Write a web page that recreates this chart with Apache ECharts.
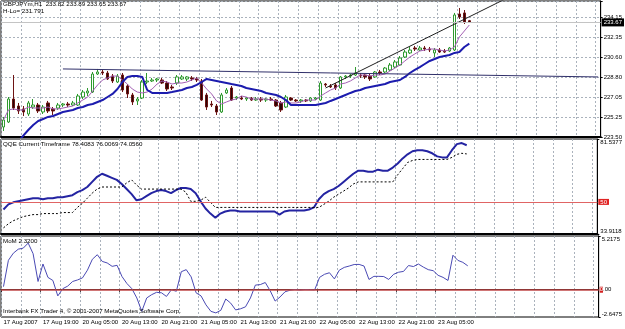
<!DOCTYPE html>
<html>
<head>
<meta charset="utf-8">
<title>GBPJPYm,H1</title>
<script src="https://cdn.jsdelivr.net/npm/echarts@6/dist/echarts.min.js"></script>
<style>
  html, body { margin: 0; padding: 0; background: #fff; }
  #main { width: 625px; height: 329px; }
</style>
</head>
<body>
<div id="main"></div>
<script>
// one label every 8 hourly bars
var timeLabels = ['17 Aug 2007', '17 Aug 19:00', '20 Aug 05:00', '20 Aug 13:00', '20 Aug 21:00', '21 Aug 05:00',
  '21 Aug 13:00', '21 Aug 21:00', '22 Aug 05:00', '22 Aug 13:00', '22 Aug 21:00', '23 Aug 05:00'];
var priceLabels = ['223.50', '225.25', '227.05', '228.80', '230.60', '232.35', '234.15'];
var qqeLabels = ['33.9118', '81.5377'];
var momLabels = ['-2.6475', '5.2175'];

// GBPJPY H1 bars
var open = [224.39, 224.83, 226.87, 226.25, 225.99, 225.54, 226.16, 226.34, 225.72, 226.52,
  225.99, 226.07, 226.34, 226.43, 226.34, 226.34, 227.05, 227.41, 227.49, 229.09,
  229.27, 229.18, 228.91, 228.38, 229.00, 228.03, 227.23, 226.70, 226.96, 228.38,
  228.47, 228.56, 228.56, 228.29, 227.94, 228.29, 228.65, 228.65, 228.74, 228.65,
  228.47, 227.23, 226.43, 226.25, 225.72, 227.41, 227.85, 226.96, 226.96, 226.87,
  226.96, 226.78, 226.87, 226.78, 226.87, 226.78, 226.52, 226.16, 226.96, 226.78,
  226.70, 226.78, 226.70, 226.87, 226.78, 228.20, 228.03, 228.12, 227.85, 228.83,
  228.91, 229.00, 229.00, 229.00, 228.91, 228.83, 229.27, 229.27, 229.45, 229.71,
  229.89, 230.60, 230.96, 231.40, 231.22, 231.40, 231.31, 230.96, 231.22, 231.13,
  231.13, 231.22, 234.42, 234.51, 233.82];
var close = [225.01, 226.87, 226.07, 225.81, 225.72, 226.52, 226.34, 225.81, 226.16, 225.81,
  225.81, 226.34, 226.43, 226.34, 226.52, 227.14, 227.49, 227.58, 229.09, 229.27,
  229.18, 228.65, 228.47, 228.91, 227.67, 227.32, 226.61, 226.87, 228.38, 228.47,
  228.56, 228.65, 228.29, 227.76, 227.85, 228.83, 228.83, 228.83, 228.65, 228.56,
  226.78, 226.16, 226.34, 225.72, 227.23, 227.67, 226.78, 227.05, 226.87, 226.96,
  226.78, 226.87, 226.78, 226.87, 226.78, 226.25, 225.90, 227.05, 226.78, 226.70,
  226.78, 226.70, 226.96, 226.96, 228.29, 228.12, 227.94, 227.85, 228.83, 228.91,
  229.00, 229.18, 228.91, 228.83, 228.65, 229.27, 229.18, 229.62, 229.89, 230.16,
  230.51, 231.04, 231.22, 231.31, 231.40, 231.31, 231.22, 231.22, 231.04, 231.04,
  231.40, 234.33, 234.15, 233.71, 233.67];
var low = [224.03, 224.74, 225.90, 225.54, 225.36, 225.36, 225.99, 225.63, 225.54, 225.63,
  225.45, 225.90, 226.16, 226.16, 226.25, 226.25, 226.87, 227.14, 227.41, 229.00,
  229.00, 228.56, 228.29, 228.29, 227.49, 226.96, 226.34, 226.34, 226.87, 228.20,
  228.38, 228.38, 228.20, 227.58, 227.67, 228.12, 228.56, 228.47, 228.47, 228.38,
  226.70, 225.90, 226.16, 225.45, 225.63, 227.32, 226.70, 226.78, 226.78, 226.70,
  226.70, 226.70, 226.61, 226.61, 226.70, 226.16, 225.72, 226.07, 226.70, 226.61,
  226.52, 226.61, 226.61, 226.78, 226.70, 227.94, 227.85, 227.67, 227.76, 228.65,
  228.74, 228.91, 228.74, 228.65, 228.47, 228.74, 229.00, 229.18, 229.36, 229.62,
  229.80, 230.51, 230.87, 231.13, 231.13, 231.13, 231.04, 230.60, 230.96, 230.96,
  231.04, 231.13, 233.97, 233.53, 233.65];
var high = [225.28, 227.05, 229.00, 226.52, 226.25, 226.70, 226.87, 226.52, 226.34, 226.70,
  226.16, 226.52, 226.52, 226.61, 226.70, 227.32, 227.67, 227.85, 229.27, 229.54,
  229.45, 229.36, 229.09, 229.09, 229.18, 228.20, 227.41, 227.05, 228.56, 229.18,
  228.74, 228.74, 228.74, 228.47, 228.12, 229.00, 229.00, 228.91, 228.91, 228.83,
  228.65, 227.41, 226.70, 226.43, 227.41, 227.85, 228.03, 227.14, 227.14, 227.05,
  227.05, 227.05, 227.05, 226.96, 227.05, 226.87, 226.70, 227.23, 227.05, 226.87,
  226.87, 226.87, 227.05, 227.05, 228.47, 228.29, 228.20, 228.29, 228.91, 229.00,
  229.09, 229.71, 229.18, 229.09, 229.09, 229.36, 229.45, 229.71, 230.07, 230.33,
  230.69, 231.22, 231.49, 231.58, 231.58, 231.58, 231.49, 231.40, 231.40, 231.31,
  231.49, 234.51, 234.95, 234.77, 233.89];

// thin purple average
var fastMa = [225.01, 225.90, 225.99, 225.90, 225.90, 226.16, 226.07, 226.07, 226.07, 226.16,
  225.99, 225.99, 226.07, 226.16, 226.25, 226.52, 226.78, 227.05, 227.58, 228.12,
  228.56, 228.74, 228.91, 228.91, 228.56, 228.20, 227.76, 227.49, 227.41, 227.49,
  227.76, 228.20, 228.47, 228.38, 228.20, 228.29, 228.29, 228.38, 228.56, 228.74,
  228.29, 227.76, 227.32, 226.70, 226.43, 226.61, 226.78, 226.87, 227.14, 227.05,
  226.87, 226.87, 226.87, 226.87, 226.78, 226.70, 226.52, 226.61, 226.52, 226.52,
  226.61, 226.78, 226.78, 226.78, 227.14, 227.41, 227.67, 227.85, 228.20, 228.29,
  228.47, 228.74, 229.00, 229.00, 228.91, 229.00, 229.00, 229.09, 229.36, 229.62,
  229.89, 230.25, 230.60, 230.87, 231.13, 231.22, 231.31, 231.31, 231.22, 231.13,
  231.22, 231.49, 232.38, 232.91, 233.44];

// thick blue H-Lo line
var hlo = [null, null, null, 223.10, 223.62, 224.12, 224.57, 224.92, 225.10, 225.28,
  225.36, 225.54, 225.72, 225.81, 225.90, 226.07, 226.16, 226.34, 226.43, 226.61,
  226.78, 227.05, 227.32, 227.76, 228.38, 228.83, 228.91, 228.91, 228.83, 227.67,
  227.41, 227.41, 227.41, 227.41, 227.49, 227.58, 227.67, 227.85, 227.94, 228.12,
  228.38, 228.65, 228.56, 228.47, 228.38, 228.29, 228.20, 228.12, 228.03, 227.85,
  227.76, 227.67, 227.58, 227.41, 227.32, 227.23, 227.05, 226.78, 226.34, 226.34,
  226.34, 226.34, 226.34, 226.34, 226.43, 226.52, 226.70, 226.87, 227.05, 227.23,
  227.41, 227.58, 227.67, 227.85, 227.94, 228.03, 228.12, 228.20, 228.38, 228.47,
  228.56, 228.83, 229.18, 229.45, 229.71, 229.98, 230.25, 230.42, 230.60, 230.69,
  230.78, 230.96, 231.04, 231.49, 231.79];

// hand drawn trend lines: [bar, price]
var lineFlat = [[12, 229.54], [120, 228.83]];
var lineUp = [[65, 227.85], [104, 236.35]];
var bid = 233.67;

// QQE
var qqeFast = [46.20, 48.76, 49.79, 50.30, 50.81, 51.32, 51.83, 51.83, 51.32, 51.83,
  51.83, 52.35, 52.35, 52.86, 53.37, 54.91, 55.93, 57.47, 60.03, 62.59,
  64.12, 63.10, 62.08, 61.05, 59.00, 56.44, 53.88, 50.81, 51.32, 52.86,
  54.39, 55.42, 55.93, 55.42, 54.39, 55.93, 56.95, 56.95, 56.44, 54.39,
  50.30, 46.71, 44.15, 42.10, 44.15, 45.18, 45.69, 45.69, 45.18, 45.18,
  45.18, 45.18, 45.18, 45.18, 45.18, 45.18, 43.64, 45.18, 45.69, 45.69,
  45.69, 45.69, 46.20, 47.23, 51.32, 53.88, 55.42, 56.44, 57.98, 60.03,
  62.08, 64.12, 65.66, 65.66, 65.15, 65.15, 66.17, 65.66, 65.66, 67.20,
  69.24, 71.81, 73.85, 75.39, 75.90, 75.90, 75.39, 74.37, 72.83, 72.32,
  72.32, 75.90, 78.97, 79.49, 78.41];
var qqeSlow = [36.98, 39.03, 40.57, 41.59, 42.62, 43.13, 43.64, 43.64, 44.15, 44.15,
  44.15, 44.15, 44.66, 44.66, 44.66, 47.23, 49.27, 51.83, 54.39, 56.44,
  57.47, 57.47, 57.47, 57.47, 57.47, 59.52, 61.05, 58.49, 56.44, 56.44,
  56.44, 56.44, 56.44, 56.44, 56.44, 56.44, 56.44, 54.91, 50.30, 50.30,
  50.81, 52.35, 49.79, 47.23, 47.23, 47.23, 47.23, 47.23, 47.23, 47.23,
  47.23, 47.23, 47.23, 47.23, 47.23, 47.23, 47.23, 47.23, 47.23, 47.23,
  47.23, 47.23, 47.23, 47.23, 47.23, 48.76, 50.30, 52.35, 53.88, 55.42,
  56.95, 59.00, 60.03, 60.03, 60.03, 60.03, 60.03, 60.03, 60.03, 60.03,
  63.61, 66.69, 69.76, 70.78, 71.29, 71.29, 71.29, 71.29, 71.29, 71.29,
  71.29, 72.32, 73.85, 74.37, 74.06];

// Momentum
var mom = [0.30, 2.86, 3.55, 3.94, 4.04, 4.53, 3.50, 0.80, 2.50, 1.20,
  0.90, -0.60, 0.10, 0.35, 0.80, 0.95, 1.15, 1.90, 2.96, 3.40,
  2.75, 2.60, 2.27, 2.37, 1.28, 0.60, 0.10, -0.80, -2.10, -0.80,
  -0.48, -0.25, -0.30, -0.65, 0.00, -0.15, 1.75, 1.95, 1.25, -0.30,
  -0.60, -1.47, -2.10, -2.25, -2.00, -0.90, -1.30, -1.96, -1.85, -1.66,
  -0.80, 0.45, 0.50, 0.70, -0.10, -1.10, -0.70, -0.20, -0.05, 0.02,
  -0.03, 0.01, 0.00, -0.02, 1.20, 1.50, 1.65, 1.05, 1.90, 2.17,
  2.30, 2.45, 2.46, 2.30, 1.00, 1.30, 1.30, 1.28, 1.00, 1.50,
  1.70, 1.78, 2.35, 2.25, 2.50, 2.20, 1.95, 1.85, 1.40, 1.20,
  0.90, 3.35, 2.85, 2.66, 2.32];

var slots = 121; // bars plus empty space on the right
var cats = [];
for (var i = 0; i < slots; i++) cats.push(String(i));
var candles = open.map(function (o, i) { return [o, close[i], low[i], high[i]]; });

var font = 'Liberation Sans';
var fs = 6;
var gridLine = { show: true, lineStyle: { color: '#aab2bc', width: 1, type: [2, 2] } };
var everyFour = function (idx) { return idx % 4 === 0; };
var labelIdx = function (idx) { return idx % 8 === 0 && idx / 8 < timeLabels.length; };

function xAx(g, last) {
  return {
    type: 'category', gridIndex: g, data: cats, boundaryGap: true,
    axisLine: { show: true, lineStyle: { color: '#000', width: last ? 1 : 2 } },
    axisTick: { show: last, interval: labelIdx, length: 2, lineStyle: { color: '#000' } },
    axisLabel: {
      show: last, interval: labelIdx, align: 'left', margin: 2,
      fontSize: fs, color: '#000', fontFamily: font,
      formatter: function (v, idx) { return timeLabels[idx / 8] || ''; }
    },
    splitLine: { show: true, interval: everyFour, lineStyle: gridLine.lineStyle }
  };
}

function yAx(g, min, max, step, labels, split) {
  return {
    type: 'value', gridIndex: g, position: 'right', min: min, max: max, interval: step,
    axisLine: { show: true, lineStyle: { color: '#000' } },
    axisTick: { show: true, length: 2, lineStyle: { color: '#000' } },
    axisLabel: {
      fontSize: fs, color: '#000', margin: 3, fontFamily: font,
      verticalAlignMinLabel: split ? null : 'bottom',
      verticalAlignMaxLabel: split ? null : 'top',
      formatter: function (v) { return labels[Math.round((v - min) / step)] || ''; }
    },
    splitLine: split ? gridLine : { show: false }
  };
}

function txt(s, top) {
  return { text: s, left: 3, top: top, padding: 0,
    textStyle: { fontSize: 6.2, fontWeight: 'normal', color: '#000', fontFamily: font } };
}

var chart = echarts.init(document.getElementById('main'));
chart.setOption({
  animation: false,
  backgroundColor: '#fff',
  textStyle: { fontFamily: font },
  title: [
    txt('GBPJPYm,H1  233.82 233.89 233.65 233.67', 1),
    txt('H-Lo= 231.791', 8),
    txt('QQE Current Timeframe 78.4083 76.0069 74.0560', 141),
    txt('MoM 2.3200', 238),
    txt('Interbank FX Trader 4, \u00a9 2001-2007 MetaQuotes Software Corp.', 308)
  ],
  grid: [
    { left: 1, top: 1, width: 601, height: 136, show: true, borderColor: '#000', borderWidth: 1 },
    { left: 1, top: 139, width: 601, height: 95, show: true, borderColor: '#000', borderWidth: 1 },
    { left: 1, top: 236, width: 601, height: 81, show: true, borderColor: '#000', borderWidth: 1 }
  ],
  xAxis: [xAx(0, false), xAx(1, false), xAx(2, true)],
  yAxis: [
    yAx(0, 223.5, 235.57, 1.775, priceLabels, true),
    yAx(1, 33.9118, 81.5377, 47.6259, qqeLabels, false),
    yAx(2, -2.6475, 5.2175, 7.865, momLabels, false)
  ],
  series: [
    {
      type: 'candlestick', xAxisIndex: 0, yAxisIndex: 0, data: candles, barWidth: 3,
      itemStyle: { color: '#ffffff', color0: '#2a0505', borderColor: '#2f9a2f', borderColor0: '#6e1414', borderWidth: 1 },
      markLine: {
        symbol: 'none', silent: true,
        lineStyle: { color: '#c4c4c4', width: 1, type: 'solid' },
        label: { position: 'end', distance: 1, formatter: bid.toFixed(2), backgroundColor: '#000', color: '#fff',
          fontSize: fs, padding: [1, 2], fontFamily: font },
        data: [{ yAxis: bid }]
      }
    },
    { type: 'line', xAxisIndex: 0, yAxisIndex: 0, data: fastMa, symbol: 'none',
      lineStyle: { color: '#a460b4', width: 1 } },
    { type: 'line', xAxisIndex: 0, yAxisIndex: 0, data: hlo, symbol: 'none',
      lineStyle: { color: '#1c1cae', width: 2 } },
    { type: 'line', xAxisIndex: 0, yAxisIndex: 0, data: lineFlat, symbol: 'none',
      lineStyle: { color: '#30306a', width: 1 } },
    { type: 'line', xAxisIndex: 0, yAxisIndex: 0, data: lineUp, symbol: 'none',
      lineStyle: { color: '#202020', width: 1 } },
    {
      type: 'line', xAxisIndex: 1, yAxisIndex: 1, data: qqeFast, symbol: 'none',
      lineStyle: { color: '#2424a2', width: 2 },
      markLine: {
        symbol: 'none', silent: true,
        lineStyle: { color: '#e06464', width: 1, type: 'solid' },
        label: { position: 'end', distance: 1, formatter: '50', backgroundColor: '#e02424', color: '#fff',
          fontSize: fs, padding: [0, 2], fontFamily: font },
        data: [{ yAxis: 50 }]
      }
    },
    { type: 'line', xAxisIndex: 1, yAxisIndex: 1, data: qqeSlow, symbol: 'none',
      lineStyle: { color: '#000', width: 1, type: [2, 2] } },
    {
      type: 'line', xAxisIndex: 2, yAxisIndex: 2, data: mom, symbol: 'none',
      lineStyle: { color: '#4a4ab4', width: 1 },
      markLine: {
        symbol: 'none', silent: true,
        lineStyle: { color: '#c04848', width: 1.5, type: 'solid' },
        label: { position: 'end', distance: 1, formatter: '{a|0}.00', color: '#000', fontSize: fs, fontFamily: font,
          rich: { a: { backgroundColor: '#d42020', color: '#fff', fontSize: fs } } },
        data: [{ yAxis: 0 }]
      }
    }
  ]
});
</script>
</body>
</html>
